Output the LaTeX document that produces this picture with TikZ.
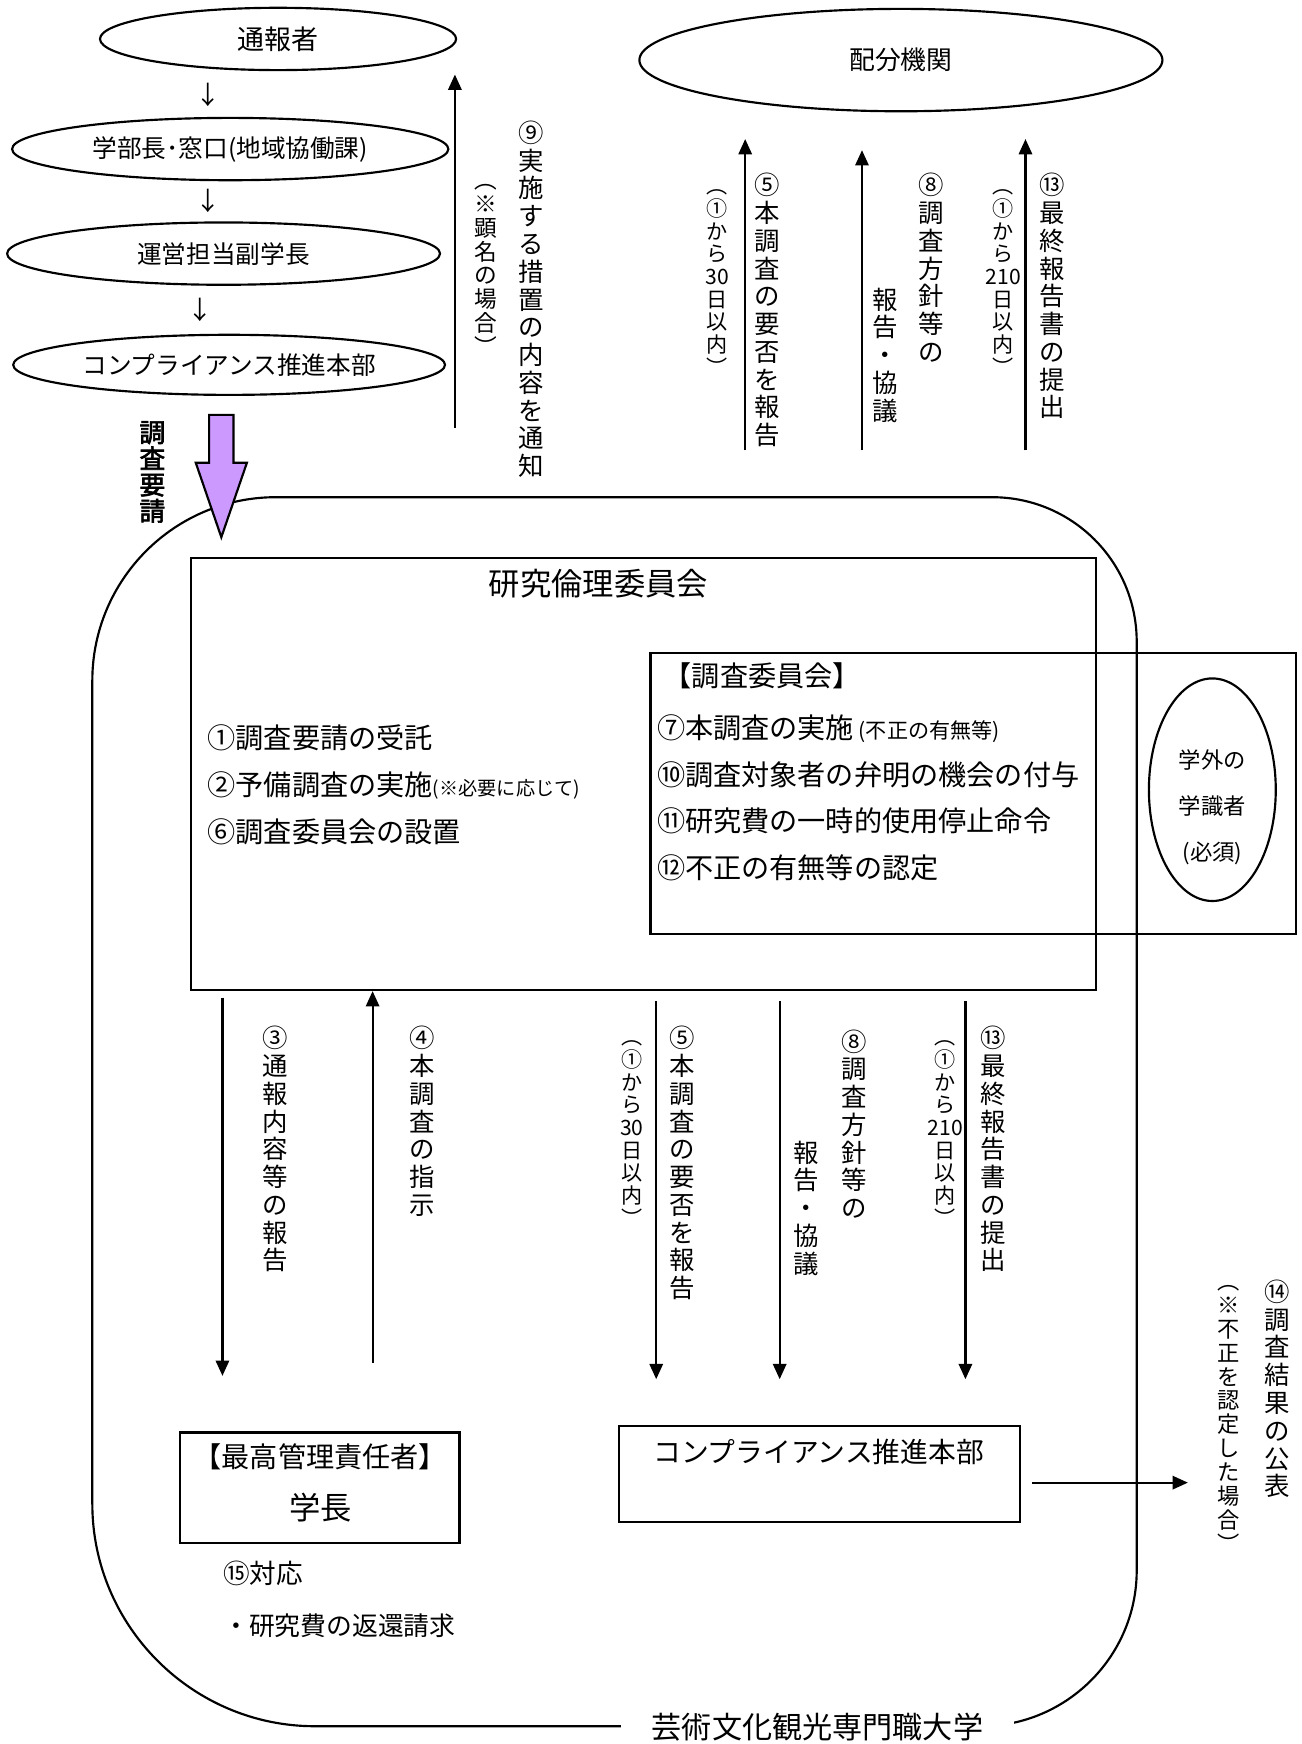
\documentclass[tikz,border=0pt]{standalone}
\usepackage{fontspec}
\setmainfont{Noto Sans CJK JP}[AutoFakeBold=2.5]
\usetikzlibrary{arrows.meta,shapes.geometric}
\newcommand\fsz[2]{\fontsize{#1}{#2}\selectfont}
\definecolor{reqpurple}{RGB}{204,153,255}

\tikzset{
	bubble/.style={draw, ellipse, line width=0.55pt, inner sep=0pt},
	frame/.style={draw, rectangle, line width=0.55pt, inner sep=0pt},
	vcol/.style={anchor=north, align=center, inner sep=0pt, font=\fsz{6.5pt}{7.1pt}},
	vnote/.style={anchor=north, align=center, inner sep=0pt, font=\fsz{5.4pt}{5.8pt}},
	arr/.style={line width=0.55pt, -{Triangle[length=3.9pt,width=3.4pt]}},
	item/.style={anchor=west, inner sep=0pt, font=\fsz{7.2pt}{8pt}},
}

\begin{document}
\begin{tikzpicture}[x=0.01cm, y=-0.01cm]
			%%%%% START %%%%%
			\path[fill=white] (0,0) rectangle (1170,1568);
			\useasboundingbox (0,0) rectangle (1170,1568);
			
			%%%%% reporting chain (top left) %%%%%
			\node[bubble, minimum width=3.2cm, minimum height=0.56cm, font=\fsz{6.9pt}{7pt}] (tsuho) at (250,35) {通報者};
			\node[font=\fsz{6.5pt}{7pt}] (dn1) at (187,85) {↓};
			\node[bubble, minimum width=3.92cm, minimum height=0.56cm, font=\fsz{6.3pt}{7pt}] (dean) at (207,134) {学部長･窓口(地域協働課)};
			\node[font=\fsz{6.5pt}{7pt}] (dn2) at (187,181) {↓};
			\node[bubble, minimum width=3.89cm, minimum height=0.56cm, font=\fsz{6.3pt}{7pt}] (vp) at (201,228) {運営担当副学長};
			\node[font=\fsz{6.5pt}{7pt}] (dn3) at (180,279) {↓};
			\node[bubble, minimum width=3.88cm, minimum height=0.54cm, font=\fsz{6.3pt}{7pt}] (comptop) at (206,328) {コンプライアンス推進本部};
			
			%%%%% notice back to reporter %%%%%
			\coordinate (a9s) at (409,385);
			\coordinate (a9e) at (409,67);
			\draw[arr] (a9s) -- (a9e);
			\node[vcol] (l9) at (478,108) {⑨\\実\\施\\す\\る\\措\\置\\の\\内\\容\\を\\通\\知};
			\node[vnote, font=\fsz{5.8pt}{6.1pt}] (l9n) at (437,165) {︵\\※\\顕\\名\\の\\場\\合\\︶};
			
			%%%%% funding agency (top right) %%%%%
			\node[bubble, minimum width=4.7cm, minimum height=0.92cm, font=\fsz{6.6pt}{7pt}] (haibun) at (810,54) {配分機関};
			
			\coordinate (t5s) at (670,405);
			\coordinate (t5e) at (670,125);
			\draw[arr] (t5s) -- (t5e);
			\node[vnote] (t5n) at (645,170) {︵\\①\\か\\ら\\30\\日\\以\\内\\︶};
			\node[vcol] (t5) at (690,155) {⑤\\本\\調\\査\\の\\要\\否\\を\\報\\告};
			
			\coordinate (t8s) at (775,405);
			\coordinate (t8e) at (775,135);
			\draw[arr] (t8s) -- (t8e);
			\node[vcol] (t8n) at (796,258) {報\\告\\・\\協\\議};
			\node[vcol] (t8) at (837,155) {⑧\\調\\査\\方\\針\\等\\の};
			
			\coordinate (t13s) at (922,405);
			\coordinate (t13e) at (922,125);
			\draw[arr] (t13s) -- (t13e);
			\node[vnote] (t13n) at (902,170) {︵\\①\\か\\ら\\210\\日\\以\\内\\︶};
			\node[vcol] (t13) at (946,155) {⑬\\最\\終\\報\\告\\書\\の\\提\\出};
			
			%%%%% university outline %%%%%
			\draw[line width=0.55pt] (83,612) .. controls (83,521) and (157,447) .. (248,447)
				-- (892,447) .. controls (964,447) and (1022,505) .. (1022,577)
				-- (1022,1412) .. controls (1022,1489) and (959,1552) .. (882,1552)
				-- (283,1552) .. controls (173,1552) and (83,1462) .. (83,1352) -- cycle;
			\node[fill=white, inner xsep=8pt, inner ysep=1pt, font=\fsz{7.7pt}{8pt}] (uni) at (735,1553) {芸術文化観光専門職大学};
			
			%%%%% request arrow %%%%%
			\draw[line width=0.55pt, fill=reqpurple] (188,373) -- (210,373) -- (210,416) -- (222,416) -- (199,483) -- (176,416) -- (188,416) -- cycle;
			\node[vcol, font=\fsz{6.6pt}{6.7pt}\bfseries] (req) at (137,378) {調\\査\\要\\請};
			
			%%%%% ethics committee %%%%%
			\node[frame, minimum width=8.13cm, minimum height=3.88cm] (rinri) at (578.5,696) {};
			\node[font=\fsz{8pt}{9pt}] (rinri_t) at (538,525) {研究倫理委員会};
			\node[item] (i1) at (186,663) {①調査要請の受託};
			\node[item] (i2) at (186,706) {②予備調査の実施{\fsz{4.9pt}{5pt}(※必要に応じて)}};
			\node[item] (i6) at (186,748) {⑥調査委員会の設置};
			
			\node[frame, minimum width=5.8cm, minimum height=2.53cm] (chousa) at (875,713.5) {};
			\node[item] (c0) at (596,608) {【調査委員会】};
			\node[item] (c7) at (590,655) {⑦本調査の実施\,{\fsz{5.4pt}{6pt}(不正の有無等)}};
			\node[item] (c10) at (590,697) {⑩調査対象者の弁明の機会の付与};
			\node[item] (c11) at (590,738) {⑪研究費の一時的使用停止命令};
			\node[item] (c12) at (590,780) {⑫不正の有無等の認定};
			
			\node[bubble, minimum width=1.14cm, minimum height=2.0cm] (gakugai) at (1090,710) {};
			\node[align=center, font=\fsz{5.7pt}{11.8pt}] (gakugai_t) at (1090,726) {学外の\\学識者\\(必須)};
			
			%%%%% reports below the committee %%%%%
			\node[frame, minimum width=2.51cm, minimum height=0.99cm] (chief) at (287.5,1337.5) {};
			\node[font=\fsz{7.2pt}{8pt}] (chief_t) at (288,1310) {【最高管理責任者】};
			\node[font=\fsz{8pt}{9pt}] (chief_n) at (288,1355) {学長};
			
			\node[frame, minimum width=3.6cm, minimum height=0.86cm] (compbox) at (737,1325) {};
			\node[font=\fsz{7.1pt}{8pt}] (compbox_t) at (736,1305) {コンプライアンス推進本部};
			
			\coordinate (b3s) at (200,897);
			\coordinate (b3e) at (200,1237);
			\draw[arr] (b3s) -- (b3e);
			\node[vcol] (b3) at (247,922) {③\\通\\報\\内\\容\\等\\の\\報\\告};
			
			\coordinate (b4s) at (335,1225);
			\draw[arr] (b4s) -- (b4s |- rinri.south);
			\node[vcol] (b4) at (380,922) {④\\本\\調\\査\\の\\指\\示};
			
			\coordinate (b5s) at (590,900);
			\coordinate (b5e) at (590,1240);
			\draw[arr] (b5s) -- (b5e);
			\node[vnote] (b5n) at (568,935) {︵\\①\\か\\ら\\30\\日\\以\\内\\︶};
			\node[vcol] (b5) at (613,922) {⑤\\本\\調\\査\\の\\要\\否\\を\\報\\告};
			
			\coordinate (b8s) at (701,900);
			\coordinate (b8e) at (701,1240);
			\draw[arr] (b8s) -- (b8e);
			\node[vcol] (b8n) at (725,1025) {報\\告\\・\\協\\議};
			\node[vcol] (b8) at (768,925) {⑧\\調\\査\\方\\針\\等\\の};
			
			\coordinate (b13s) at (868,900);
			\coordinate (b13e) at (868,1240);
			\draw[arr] (b13s) -- (b13e);
			\node[vnote] (b13n) at (850,935) {︵\\①\\か\\ら\\210\\日\\以\\内\\︶};
			\node[vcol] (b13) at (893,922) {⑬\\最\\終\\報\\告\\書\\の\\提\\出};
			
			%%%%% publication %%%%%
			\coordinate (p14s) at (928,1333);
			\coordinate (p14e) at (1068,1333);
			\draw[arr] (p14s) -- (p14e);
			\node[vcol] (p14) at (1148,1150) {⑭\\調\\査\\結\\果\\の\\公\\表};
			\node[vnote, font=\fsz{5.7pt}{6.1pt}] (p14n) at (1105,1155) {︵\\※\\不\\正\\を\\認\\定\\し\\た\\場\\合\\︶};
			
			%%%%% response %%%%%
			\node[item, font=\fsz{6.8pt}{8pt}] (r15) at (200,1415) {⑮対応};
			\node[item, font=\fsz{6.6pt}{8pt}] (r15a) at (200,1462) {・研究費の返還請求};
			
			%%%%% END %%%%%
\end{tikzpicture}
\end{document}
